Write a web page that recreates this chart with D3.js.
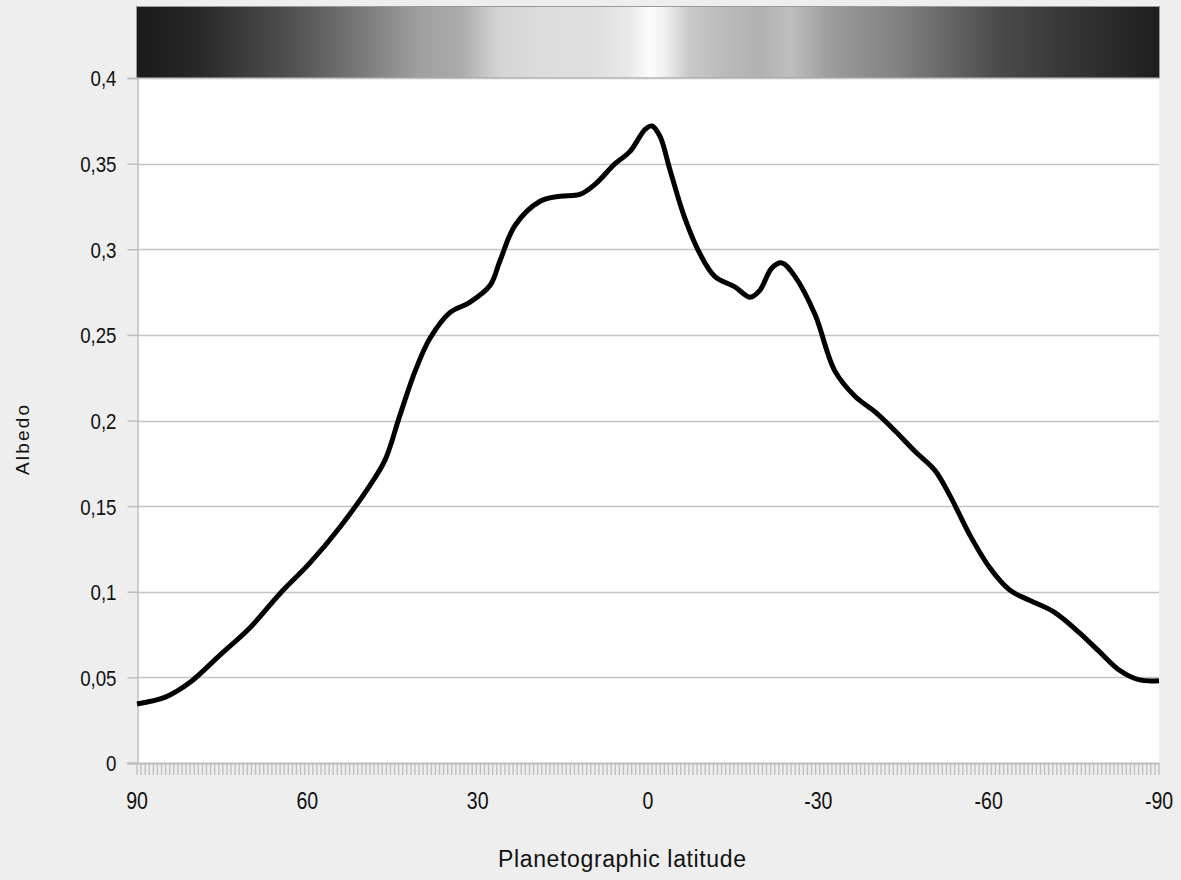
<!DOCTYPE html>
<html>
<head>
<meta charset="utf-8">
<script src="https://cdn.jsdelivr.net/npm/d3@7"></script>
<style>
  body { margin: 0; background: #eeeeee; }
  svg { display: block; }
  text { font-family: "Liberation Sans", Arial, sans-serif; fill: #111; }
</style>
</head>
<body>
<div id="chart"></div>
<script>
// albedo profile vs planetographic latitude
var lat = [90, 85, 80.7, 75.4, 70.1, 64.8, 59.5, 54.2, 49, 46.3, 43.7, 41, 38.4, 34.9, 31.4, 27.8,
    26.1, 23.4, 19, 15.5, 12, 9.3, 5.8, 3.2, 0.5, -0.7, -2.1, -3.9, -6.5, -9.2, -11.8, -15.3,
    -18, -19.7, -21.8, -23.6, -25.9, -29.4, -32.9, -36.5, -40, -43.5, -47, -50.5, -53.2, -56.7,
    -60.2, -63.7, -67.2, -71.6, -76, -79.5, -83.1, -86.6, -90];
var albedo = [0.0345, 0.0385, 0.047, 0.063, 0.079, 0.099, 0.117, 0.138, 0.162, 0.177, 0.203, 0.229,
    0.248, 0.263, 0.269, 0.279, 0.293, 0.314, 0.328, 0.331, 0.332, 0.338, 0.350, 0.357, 0.370,
    0.372, 0.366, 0.346, 0.318, 0.297, 0.284, 0.278, 0.272, 0.276, 0.289, 0.292, 0.284, 0.262,
    0.229, 0.214, 0.205, 0.194, 0.182, 0.171, 0.156, 0.133, 0.114, 0.101, 0.095, 0.088, 0.076,
    0.065, 0.054, 0.0485, 0.048];

// brightness of the band above the plot
var bandLat = [90, 78.9, 61.3, 47.2, 40.2, 33.1, 26.1, 19, 8.5, 3.2, -0.4, -3, -7.4, -12.7,
    -19.7, -25, -32, -44.4, -62, -76, -90];
var bandGray = [26, 40, 85, 133, 160, 170, 213, 220, 224, 234, 252, 240, 200, 188,
    176, 191, 156, 128, 74, 51, 30];

var yTicks = [0, 0.05, 0.1, 0.15, 0.2, 0.25, 0.3, 0.35, 0.4];
var xTicks = [90, 60, 30, 0, -30, -60, -90];

var W = 1181, H = 880;
var pLeft = 137, pRight = 1159, pTop = 78, pBottom = 763;
var narrow = 0.85; // tick labels in the picture are a bit condensed

var svg = d3.select('#chart').append('svg')
    .attr('width', W)
    .attr('height', H);

var x = d3.scaleLinear().domain([90, -90]).range([pLeft, pRight]);
var y = d3.scaleLinear().domain([0, 0.4]).range([pBottom, pTop]);

// gradient band
var grad = svg.append('defs').append('linearGradient')
    .attr('id', 'band')
    .attr('x1', 0).attr('x2', 1).attr('y1', 0).attr('y2', 0);
grad.selectAll('stop')
    .data(bandLat)
    .join('stop')
    .attr('offset', d => (x(d) - pLeft) / (pRight - pLeft))
    .attr('stop-color', (d, i) => d3.rgb(bandGray[i], bandGray[i], bandGray[i]));

svg.append('rect')
    .attr('x', pLeft - 0.5).attr('y', 6.5)
    .attr('width', pRight - pLeft + 1).attr('height', pTop - 6.5)
    .attr('fill', 'url(#band)')
    .attr('stroke', '#999')
    .attr('stroke-width', 1);

// plot area
svg.append('rect')
    .attr('x', pLeft).attr('y', pTop)
    .attr('width', pRight - pLeft).attr('height', pBottom - pTop)
    .attr('fill', '#fff');

// grid lines
svg.append('g')
    .selectAll('line')
    .data(yTicks.slice(1))
    .join('line')
    .attr('x1', pLeft).attr('x2', pRight)
    .attr('y1', d => Math.round(y(d)) + 0.5).attr('y2', d => Math.round(y(d)) + 0.5)
    .attr('stroke', '#c4c4c4')
    .attr('stroke-width', 1.3);

// y axis
var yAxis = svg.append('g')
    .attr('transform', 'translate(' + (pLeft + 0.5) + ',0)')
    .call(d3.axisLeft(y).tickValues(yTicks).tickSize(10).tickPadding(10)
        .tickFormat(d => String(d).replace('.', ',')));
yAxis.select('.domain').attr('stroke', '#bdbdbd').attr('stroke-width', 1.5);
yAxis.selectAll('.tick line').attr('stroke', '#bdbdbd').attr('stroke-width', 1.5);
yAxis.selectAll('text')
    .attr('font-size', 22)
    .attr('font-family', '"Liberation Sans", Arial, sans-serif')
    .attr('fill', '#111')
    .attr('x', -21 / narrow)
    .attr('dy', '0.36em')
    .attr('transform', 'scale(' + narrow + ',1)');

// x minor ticks
var minor = d3.range(0, 251).map(i => 90 - i * 180 / 250);
svg.append('g')
    .selectAll('line')
    .data(minor)
    .join('line')
    .attr('x1', d => x(d)).attr('x2', d => x(d))
    .attr('y1', pBottom).attr('y2', pBottom + 12)
    .attr('stroke', '#c0c0c0')
    .attr('stroke-width', 1.4);

svg.append('line')
    .attr('x1', pLeft - 10).attr('x2', pRight)
    .attr('y1', pBottom + 0.5).attr('y2', pBottom + 0.5)
    .attr('stroke', '#bdbdbd')
    .attr('stroke-width', 2);

// x labels
svg.append('g')
    .selectAll('text')
    .data(xTicks)
    .join('text')
    .attr('transform', d => 'translate(' + x(d) + ',809) scale(' + narrow + ',1)')
    .attr('text-anchor', 'middle')
    .attr('font-size', 23)
    .text(d => d);

// albedo curve
var line = d3.line()
    .x(d => x(d))
    .y((d, i) => y(albedo[i]))
    .curve(d3.curveCatmullRom.alpha(0.5));

svg.append('path')
    .datum(lat)
    .attr('d', line)
    .attr('fill', 'none')
    .attr('stroke', '#000')
    .attr('stroke-width', 5)
    .attr('stroke-linejoin', 'round');

// axis titles
svg.append('text')
    .attr('x', 622).attr('y', 867)
    .attr('text-anchor', 'middle')
    .attr('font-size', 23)
    .attr('textLength', 248)
    .attr('lengthAdjust', 'spacing')
    .text('Planetographic latitude');

svg.append('text')
    .attr('transform', 'translate(29,440) rotate(-90)')
    .attr('text-anchor', 'middle')
    .attr('font-size', 19)
    .attr('textLength', 70)
    .attr('lengthAdjust', 'spacing')
    .text('Albedo');
</script>
</body>
</html>
